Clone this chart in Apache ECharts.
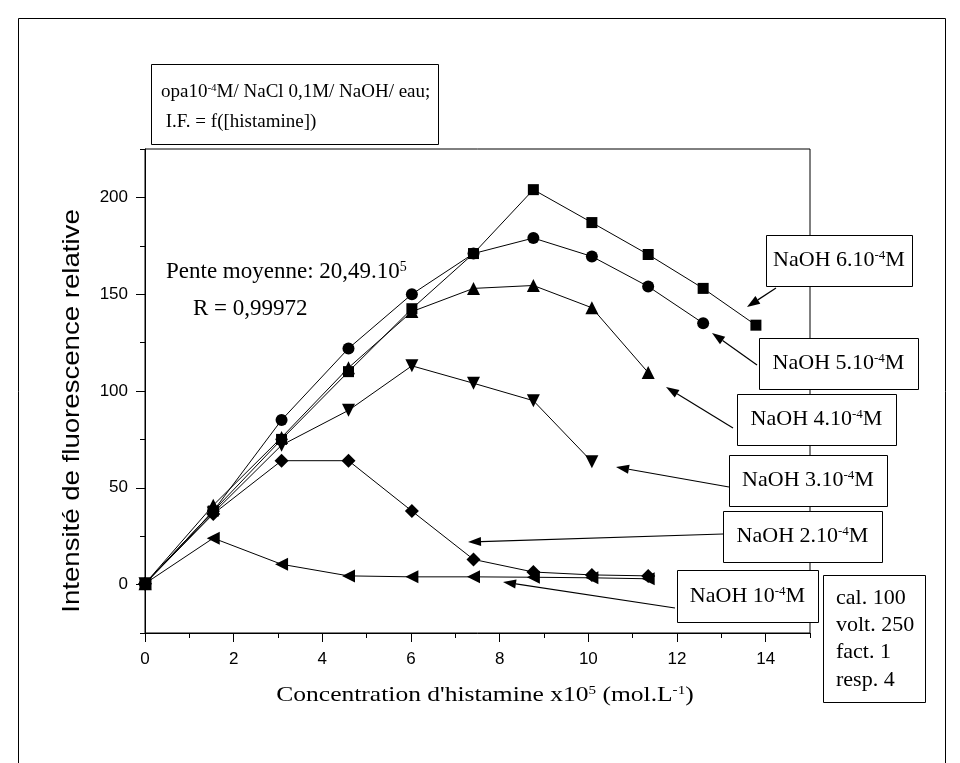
<!DOCTYPE html>
<html>
<head>
<meta charset="utf-8">
<script src="https://cdn.jsdelivr.net/npm/echarts@6/dist/echarts.min.js"></script>
<style>
  html, body { margin: 0; padding: 0; background: #fff; }
  #chart { width: 960px; height: 763px; }
</style>
</head>
<body>
<div id="chart"></div>
<script>
// Histamine concentration (x10^5 mol/L) shared by every curve
const concentration = [0, 1.54, 3.08, 4.59, 6.02, 7.41, 8.76, 10.08, 11.35, 12.59, 13.78];

// Relative fluorescence intensity for each NaOH concentration
const naoh6 = [0.5, 38, 75, 110, 142.5, 171, 204, 187, 170.5, 153, 134];
const naoh5 = [0.5, 38, 85, 122, 150, 171, 179, 169.5, 154, 135];
const naoh4 = [0.5, 41, 76, 112, 141, 153, 154.5, 143, 109.5];
const naoh3 = [0.5, 37, 72, 90, 113, 104, 95, 63.5];
const naoh2 = [0.5, 36.5, 64, 64, 38, 13, 6.5, 5, 4.5];
const naoh1 = [0.5, 24, 10.5, 4.5, 4, 4, 3.8, 3.5, 3];

// Axis ticks
const xTickLabels = [0, 2, 4, 6, 8, 10, 12, 14];
const xMinorTicks = [1, 3, 5, 7, 9, 11, 13, 15];
const yTickLabels = [0, 50, 100, 150, 200];
const yMinorTicks = [-25, 25, 75, 125, 175, 225];

const SERIF = 'Liberation Serif';
const SANS = 'Liberation Sans';

function points(values) {
  return values.map((v, i) => [concentration[i], v]);
}

function curve(name, values, symbol, size, rotate) {
  return {
    name: name,
    type: 'line',
    data: points(values),
    symbol: symbol,
    symbolSize: size,
    symbolRotate: rotate || 0,
    showSymbol: true,
    lineStyle: { color: '#000', width: 1 },
    itemStyle: { color: '#000' },
    emphasis: { disabled: true },
    animation: false
  };
}

function richStyle(size) {
  return {
    b: { fontFamily: SERIF, fontSize: size, color: '#000' },
    s: { fontFamily: SERIF, fontSize: Math.round(size * 0.6), color: '#000', verticalAlign: 'top' }
  };
}

function serifText(x, y, text, size, align, extra) {
  return Object.assign({
    type: 'text',
    x: x, y: y, z: 110,
    style: {
      text: text,
      rich: richStyle(size),
      fontFamily: SERIF, fontSize: size, fill: '#000',
      align: align || 'center', verticalAlign: 'middle'
    }
  }, extra || {});
}

function box(x1, y1, x2, y2) {
  return {
    type: 'rect', z: 100,
    shape: { x: x1, y: y1, width: x2 - x1, height: y2 - y1 },
    style: { fill: '#fff', stroke: '#000', lineWidth: 1 }
  };
}

function arrow(x1, y1, x2, y2) {
  const dx = x2 - x1, dy = y2 - y1, len = Math.hypot(dx, dy);
  const ux = dx / len, uy = dy / len;
  const hl = 13, hw = 4.5;
  const bx = x2 - ux * hl, by = y2 - uy * hl;
  return [
    { type: 'line', z: 105, shape: { x1: x1, y1: y1, x2: bx, y2: by },
      style: { stroke: '#000', lineWidth: 1.2 } },
    { type: 'polygon', z: 105,
      shape: { points: [[x2, y2], [bx - uy * hw, by + ux * hw], [bx + uy * hw, by - ux * hw]] },
      style: { fill: '#000' } }
  ];
}

// Labelled boxes on the right, each tied to its curve by an arrow
const calloutBoxes = [
  { rect: [766, 235, 912, 286], text: '{b|NaOH 6.10}{s|-4}{b|M}', tip: [776, 288, 747, 307] },
  { rect: [759, 338, 918, 389], text: '{b|NaOH 5.10}{s|-4}{b|M}', tip: [757, 365, 712, 333] },
  { rect: [737, 394, 896, 445], text: '{b|NaOH 4.10}{s|-4}{b|M}', tip: [733, 428, 666, 387] },
  { rect: [729, 455, 887, 506], text: '{b|NaOH 3.10}{s|-4}{b|M}', tip: [729, 487, 616, 467] },
  { rect: [723, 511, 882, 562], text: '{b|NaOH 2.10}{s|-4}{b|M}', tip: [723, 534, 468, 542] },
  { rect: [677, 570, 818, 622], text: '{b|NaOH 10}{s|-4}{b|M}', tip: [675, 608, 503, 582] }
];

const graphics = [];
// outer frame of the figure
graphics.push({ type: 'rect', z: 1, shape: { x: 18.5, y: 18.5, width: 927, height: 800 },
  style: { fill: 'none', stroke: '#000', lineWidth: 1 } });

// experimental conditions box
graphics.push(box(151.5, 64.5, 438.5, 144.5));
graphics.push(serifText(161, 92, '{b|opa10}{s|-4}{b|M/ NaCl 0,1M/ NaOH/ eau;}', 19, 'left'));
graphics.push(serifText(161, 122, '{b| I.F. = f([histamine])}', 19, 'left'));

// slope and correlation
graphics.push(serifText(166, 272, '{b|Pente moyenne: 20,49.10}{s|5}', 23, 'left'));
graphics.push(serifText(193, 309, '{b|R = 0,99972}', 23, 'left'));

calloutBoxes.forEach(c => {
  const [x1, y1, x2, y2] = c.rect;
  graphics.push(box(x1 + 0.5, y1 + 0.5, x2 + 0.5, y2 + 0.5));
  graphics.push(serifText((x1 + x2) / 2, (y1 + y2) / 2, c.text, 22, 'center'));
  graphics.push(...arrow(c.tip[0], c.tip[1], c.tip[2], c.tip[3]));
});

// instrument settings box
graphics.push(box(823.5, 575.5, 925.5, 702.5));
['cal. 100', 'volt. 250', 'fact. 1', 'resp. 4'].forEach((t, i) => {
  graphics.push(serifText(836, 598 + i * 27.3, '{b|' + t + '}', 22, 'left'));
});

// axis titles (slightly widened lettering)
graphics.push(serifText(485, 695, '{b|Concentration d\'histamine x10}{s|5}{b| (mol.L}{s|-1}{b|)}', 22, 'center',
  { scaleX: 1.16 }));
graphics.push({
  type: 'text', x: 72, y: 411, z: 110, rotation: Math.PI / 2, scaleX: 1.15,
  style: {
    text: 'Intensité de fluorescence relative',
    fontFamily: SANS, fontSize: 24, fill: '#000',
    align: 'center', verticalAlign: 'middle'
  }
});

const hiddenLine = { show: false, onZero: false };

const option = {
  backgroundColor: '#fff',
  animation: false,
  grid: {
    left: 145, top: 149, width: 665, height: 484,
    show: true, borderColor: '#000', borderWidth: 1, backgroundColor: 'transparent'
  },
  xAxis: [
    {
      type: 'value', min: 0, max: 15, position: 'bottom',
      splitLine: { show: false },
      axisLine: { show: true, onZero: false, lineStyle: { color: '#000', width: 1 } },
      axisTick: { show: true, length: 9, customValues: xTickLabels, lineStyle: { color: '#000' } },
      axisLabel: { customValues: xTickLabels, margin: 18, fontSize: 17, fontFamily: SANS, color: '#000' }
    },
    {
      type: 'value', min: 0, max: 15, position: 'bottom',
      splitLine: { show: false },
      axisLine: hiddenLine,
      axisTick: { show: true, length: 5, customValues: xMinorTicks, lineStyle: { color: '#000' } },
      axisLabel: { show: false }
    }
  ],
  yAxis: [
    {
      type: 'value', min: -25, max: 225, position: 'left',
      splitLine: { show: false },
      axisLine: { show: true, onZero: false, lineStyle: { color: '#000', width: 1 } },
      axisTick: { show: true, length: 9, customValues: yTickLabels, lineStyle: { color: '#000' } },
      axisLabel: { customValues: yTickLabels, margin: 17, fontSize: 17, fontFamily: SANS, color: '#000' }
    },
    {
      type: 'value', min: -25, max: 225, position: 'left', offset: 0,
      splitLine: { show: false },
      axisLine: hiddenLine,
      axisTick: { show: true, length: 5, customValues: yMinorTicks, lineStyle: { color: '#000' } },
      axisLabel: { show: false }
    }
  ],
  series: [
    curve('NaOH 10-4M', naoh1, 'triangle', 13, 90),
    curve('NaOH 2.10-4M', naoh2, 'diamond', 14),
    curve('NaOH 3.10-4M', naoh3, 'triangle', 13, 180),
    curve('NaOH 4.10-4M', naoh4, 'triangle', 13),
    curve('NaOH 5.10-4M', naoh5, 'circle', 12),
    curve('NaOH 6.10-4M', naoh6, 'rect', 11)
  ],
  graphic: graphics
};

const chart = echarts.init(document.getElementById('chart'), null, { renderer: 'canvas' });
chart.setOption(option);
</script>
</body>
</html>
